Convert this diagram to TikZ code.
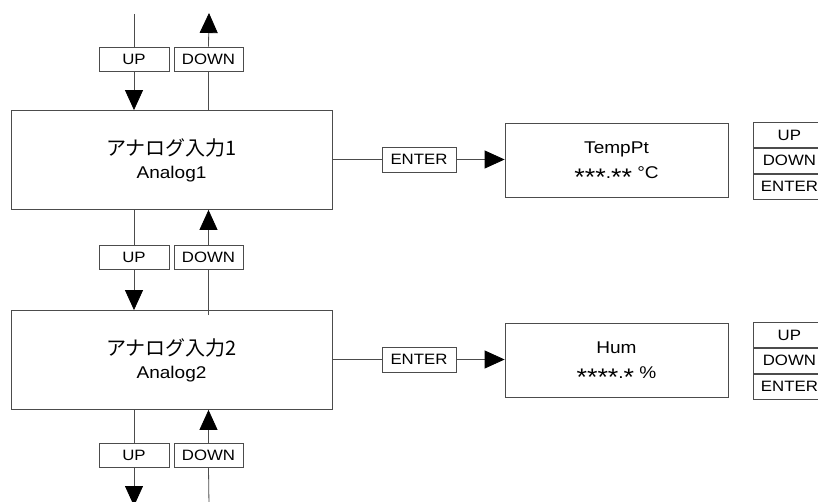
\documentclass[tikz,border=0pt]{standalone}
\usepackage{fontspec}
\setmainfont{Liberation Sans}[FakeStretch=1.12]
\newfontfamily\jp{Noto Sans CJK JP}
\usetikzlibrary{arrows.meta}
% large centred asterisk used for digit placeholders
\newcommand\digitmark{\raisebox{-7.5pt}[0pt][0pt]{\fontsize{24}{24}\selectfont *}}
\begin{document}
\begin{tikzpicture}[x=1pt,y=-1pt,
  line width=0.8pt,
  every node/.style={inner sep=0pt},
  menubox/.style={draw=black!70, minimum width=321pt, minimum height=99pt, align=center},
  valbox/.style={draw=black!70, minimum width=223pt, minimum height=74pt, align=center, font=\fontsize{17}{25}\selectfont},
  keybox/.style={draw=black!70, minimum height=24pt, font=\fontsize{15}{16}\selectfont},
  upkey/.style={keybox, minimum width=70pt},
  downkey/.style={keybox, minimum width=69pt},
  enterkey/.style={keybox, minimum width=74pt, minimum height=25pt},
  legend/.style={draw=black!70, minimum width=72pt, minimum height=25pt, anchor=west, font=\fontsize{15}{16}\selectfont},
  wire/.style={draw=black!70},
  arr/.style={wire, -{Triangle[length=20pt,width=18pt,fill=black,color=black]}}
]
\clip (0,0) rectangle (818,502);
\fill[white] (0,0) rectangle (818,502);

% menu screens
\node[menubox] (m1) at (171.5,160) {{\jp\fontsize{20}{20}\selectfont アナログ入力1}\\[8pt]{\fontsize{17}{18}\selectfont Analog1}};
\node[menubox] (m2) at (171.5,360) {{\jp\fontsize{20}{20}\selectfont アナログ入力2}\\[8pt]{\fontsize{17}{18}\selectfont Analog2}};

% value screens
\node[valbox] (v1) at (616.5,160) {TempPt\\\digitmark\digitmark\digitmark.\digitmark\digitmark\ °C};
\node[valbox] (v2) at (616.5,360) {Hum\\\digitmark\digitmark\digitmark\digitmark.\digitmark\ \%};

% ENTER keys between menu and value screens
\node[enterkey] (e1) at (419,159.5) {ENTER};
\node[enterkey] (e2) at (419,359.5) {ENTER};
\draw[wire] (m1.east |- e1) -- (e1.west);
\draw[arr] (e1.east) -- (v1.west |- e1);
\draw[wire] (m2.east |- e2) -- (e2.west);
\draw[arr] (e2.east) -- (v2.west |- e2);

% key legends
\node[legend] (l1u) at (753,135) {UP};
\node[legend, anchor=north west] (l1d) at (l1u.south west) {DOWN};
\node[legend, anchor=north west] (l1e) at (l1d.south west) {ENTER};
\node[legend] (l2u) at (753,335) {UP};
\node[legend, anchor=north west] (l2d) at (l2u.south west) {DOWN};
\node[legend, anchor=north west] (l2e) at (l2d.south west) {ENTER};

% UP / DOWN keys
\node[upkey] (u0) at (134,59) {UP};
\node[downkey] (d0) at (208.5,59) {DOWN};
\node[upkey] (u1) at (134,257.5) {UP};
\node[downkey] (d1) at (208.5,257.5) {DOWN};
\node[upkey] (u2) at (134,455.5) {UP};
\node[downkey] (d2) at (208.5,455.5) {DOWN};

\coordinate (in0) at (134,14);
\coordinate (out0) at (209,13);
\coordinate (out2) at (134,506);
\coordinate (in2) at (209,506);

% top: from previous screen / to previous screen
\draw[wire] (in0) -- (u0.north);
\draw[arr] (u0.south) -- (u0.south |- m1.north);
\draw[wire] (d0.south |- m1.north) -- (d0.south);
\draw[arr] (d0.north) -- (out0);

% between screen 1 and screen 2
\draw[wire] (u1.north |- m1.south) -- (u1.north);
\draw[arr] (u1.south) -- (u1.south |- m2.north);
\draw[wire] ([yshift=-5pt]d1.south |- m2.north) -- (d1.south);
\draw[arr] (d1.north) -- (d1.north |- m1.south);

% bottom: to next screen / from next screen
\draw[wire] (u2.north |- m2.south) -- (u2.north);
\draw[arr] (u2.south) -- (out2);
\draw[wire] (in2) -- (d2.south);
\draw[arr] (d2.north) -- (d2.north |- m2.south);
\end{tikzpicture}
\end{document}
